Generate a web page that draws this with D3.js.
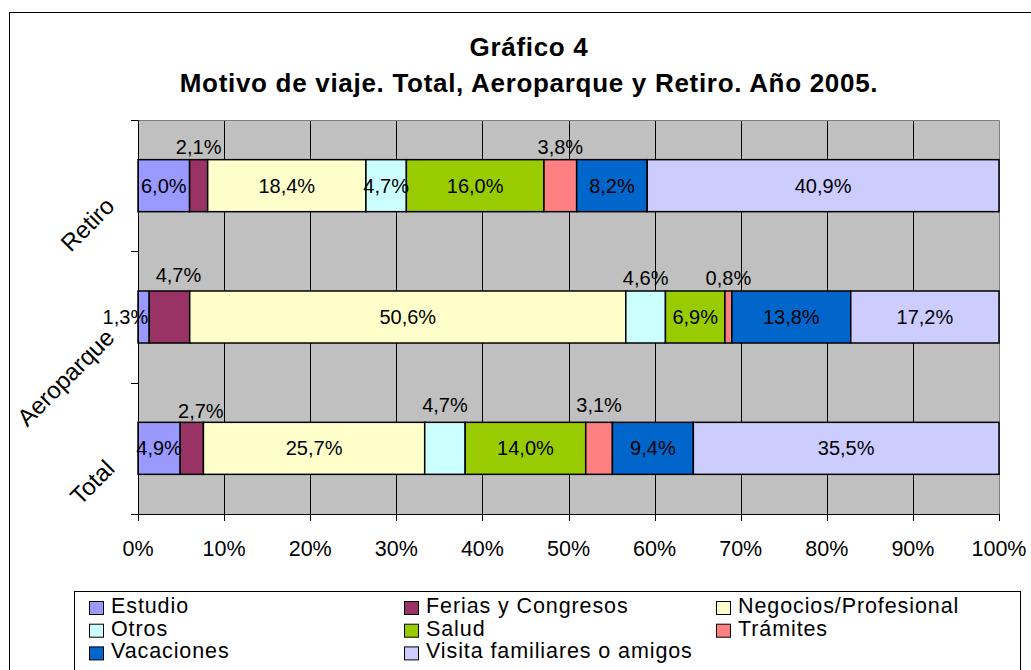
<!DOCTYPE html>
<html>
<head>
<meta charset="utf-8">
<script src="https://cdn.jsdelivr.net/npm/d3@7.9.0/dist/d3.min.js"></script>
<style>
  body { margin: 0; background: #fff; }
  svg { display: block; font-family: "Liberation Sans", Arial, sans-serif; }
</style>
</head>
<body>
<svg id="chart" width="1031" height="670"></svg>
<script>
// Data (percent per trip reason)
const categories = ['Retiro', 'Aeroparque', 'Total'];
const series = ['Estudio', 'Ferias y Congresos', 'Negocios/Profesional', 'Otros',
  'Salud', 'Trámites', 'Vacaciones', 'Visita familiares o amigos'];
const retiro = [6.0, 2.1, 18.4, 4.7, 16.0, 3.8, 8.2, 40.9];
const aeroparque = [1.3, 4.7, 50.6, 4.6, 6.9, 0.8, 13.8, 17.2];
const total = [4.9, 2.7, 25.7, 4.7, 14.0, 3.1, 9.4, 35.5];
const colors = ['#9999FF', '#993366', '#FFFFCC', '#CCFFFF', '#99CC00', '#FF8080', '#0066CC', '#CCCCFF'];
const xTicks = [0, 0.1, 0.2, 0.3, 0.4, 0.5, 0.6, 0.7, 0.8, 0.9, 1];

// where each data label sits: c = inside, a = above, l = left of the bar
const labelPlace = {
  Retiro: ['c', 'a', 'c', 'c', 'c', 'a', 'c', 'c'],
  Aeroparque: ['l', 'a', 'c', 'a', 'c', 'a', 'c', 'c'],
  Total: ['c', 'a', 'c', 'a', 'c', 'a', 'c', 'c']
};
const labelNudge = { 'Aeroparque-1': [9, -3], 'Total-1': [9, 2], 'Total-3': [0, -4], 'Total-5': [0, -4] };

const values = { Retiro: retiro, Aeroparque: aeroparque, Total: total };

const svg = d3.select('#chart');
const fmt = (v) => d3.format('.1f')(v).replace('.', ',') + '%';

// outer frame
svg.append('rect')
  .attr('x', 9.5).attr('y', 12.5)
  .attr('width', 1040).attr('height', 680)
  .attr('fill', '#fff').attr('stroke', '#000');

// title
const title = svg.append('text')
  .attr('text-anchor', 'middle')
  .attr('font-weight', 'bold')
  .attr('font-size', 26)
  .attr('letter-spacing', 0.7);
title.append('tspan').attr('x', 529).attr('y', 56).text('Gráfico 4');
title.append('tspan').attr('x', 529).attr('y', 92).text('Motivo de viaje. Total, Aeroparque y Retiro. Año 2005.');

// scales
const x = d3.scaleLinear().domain([0, 1]).range([138, 999]);
const y = d3.scaleBand().domain(categories).range([120, 514])
  .paddingInner(0.604).paddingOuter(0.302);

// plot background
svg.append('rect')
  .attr('x', x(0)).attr('y', 120)
  .attr('width', x(1) - x(0)).attr('height', 394)
  .attr('fill', '#C0C0C0');

// gridlines
svg.append('g')
  .selectAll('line')
  .data(xTicks.slice(1, -1))
  .join('line')
  .attr('x1', (d) => Math.round(x(d)) + 0.5).attr('x2', (d) => Math.round(x(d)) + 0.5)
  .attr('y1', 120).attr('y2', 514)
  .attr('stroke', '#000');

// plot border (top and right, gray)
svg.append('path')
  .attr('d', `M${x(0)},120.5H${x(1) + 0.5}V514`)
  .attr('fill', 'none').attr('stroke', '#808080');

// stacked bars, normalised to 100%
const rows = categories.map((cat) => {
  let vals = values[cat];
  let sum = d3.sum(vals);
  let acc = 0;
  return vals.map((v, i) => {
    let seg = { cat, i, v, x0: acc / sum, x1: (acc + v) / sum };
    acc += v;
    return seg;
  });
});
const segs = rows.flat();

svg.append('g')
  .selectAll('rect')
  .data(segs)
  .join('rect')
  .attr('x', (d) => x(d.x0))
  .attr('y', (d) => y(d.cat))
  .attr('width', (d) => x(d.x1) - x(d.x0))
  .attr('height', y.bandwidth())
  .attr('fill', (d) => colors[d.i])
  .attr('stroke', '#000')
  .attr('stroke-width', 1.5);

// data labels
svg.append('g')
  .attr('font-size', 20)
  .selectAll('text')
  .data(segs)
  .join('text')
  .each(function (d) {
    let place = labelPlace[d.cat][d.i];
    let nudge = labelNudge[`${d.cat}-${d.i}`] || [0, 0];
    let t = d3.select(this).text(fmt(d.v));
    if (place === 'a') {
      t.attr('text-anchor', 'middle')
        .attr('x', x((d.x0 + d.x1) / 2) + nudge[0])
        .attr('y', y(d.cat) - 6 + nudge[1]);
    } else if (place === 'l') {
      t.attr('text-anchor', 'end')
        .attr('x', x(d.x1) - 1)
        .attr('y', y(d.cat) + y.bandwidth() / 2 + 7);
    } else {
      t.attr('text-anchor', 'middle')
        .attr('x', x((d.x0 + d.x1) / 2) + nudge[0])
        .attr('y', y(d.cat) + y.bandwidth() / 2 + 7);
    }
  });

// y axis with ticks at category boundaries
const bounds = d3.range(categories.length + 1).map((i) => 120 + i * y.step());
svg.append('line')
  .attr('x1', x(0) + 0.5).attr('x2', x(0) + 0.5)
  .attr('y1', 120).attr('y2', 514)
  .attr('stroke', '#000');
svg.append('g')
  .selectAll('line')
  .data(bounds)
  .join('line')
  .attr('x1', 131).attr('x2', x(0))
  .attr('y1', (d) => Math.round(d) + 0.5).attr('y2', (d) => Math.round(d) + 0.5)
  .attr('stroke', '#000');

// category labels, rotated
svg.append('g')
  .attr('font-size', 24)
  .selectAll('text')
  .data(categories)
  .join('text')
  .attr('text-anchor', 'end')
  .attr('transform', (d) => `translate(116,${y(d) + y.bandwidth() / 2 + 22}) rotate(-45)`)
  .text((d) => d);

// x axis
svg.append('line')
  .attr('x1', x(0)).attr('x2', x(1) + 1)
  .attr('y1', 514.5).attr('y2', 514.5)
  .attr('stroke', '#000');
svg.append('g')
  .selectAll('line')
  .data(xTicks)
  .join('line')
  .attr('x1', (d) => Math.round(x(d)) + 0.5).attr('x2', (d) => Math.round(x(d)) + 0.5)
  .attr('y1', 514).attr('y2', 521)
  .attr('stroke', '#000');
svg.append('g')
  .attr('font-size', 21.5)
  .attr('text-anchor', 'middle')
  .selectAll('text')
  .data(xTicks)
  .join('text')
  .attr('x', (d) => x(d))
  .attr('y', 556)
  .text((d) => d3.format('.0%')(d));

// legend
svg.append('rect')
  .attr('x', 74.5).attr('y', 591.5)
  .attr('width', 946).attr('height', 100)
  .attr('fill', '#fff').attr('stroke', '#000');

const legendCols = [89, 404, 716];
const legend = svg.append('g')
  .selectAll('g')
  .data(series)
  .join('g')
  .attr('transform', (d, i) => `translate(${legendCols[i % 3]},${613 + Math.floor(i / 3) * 22.7})`);
legend.append('rect')
  .attr('x', 0.5).attr('y', -11.5)
  .attr('width', 14).attr('height', 13)
  .attr('fill', (d, i) => colors[i])
  .attr('stroke', '#000');
legend.append('text')
  .attr('x', 22)
  .attr('font-size', 21.5)
  .attr('letter-spacing', 0.9)
  .text((d) => d);
</script>
</body>
</html>
